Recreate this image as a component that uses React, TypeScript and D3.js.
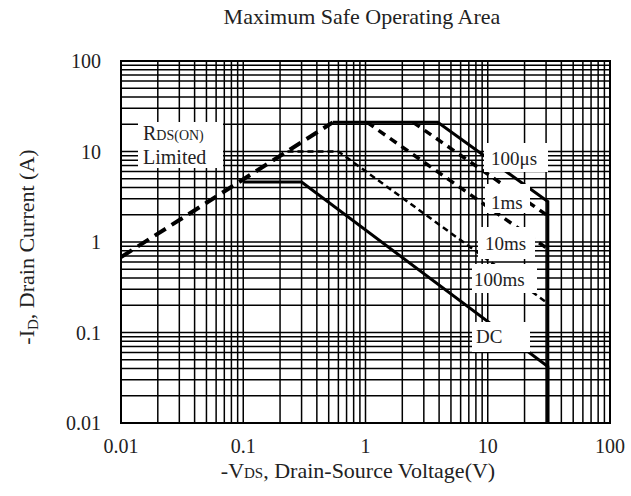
import * as d3 from 'd3'

const decades = [0.01, 0.1, 1, 10, 100]
const tickLabels = ['0.01', '0.1', '1', '10', '100']

// SOA boundaries as [Vds, Id] pairs
const rdsLimit = [[0.01, 0.68], [0.54, 21]]
const pulse100us = [[0.54, 21], [3.9, 21], [31, 2.8], [31, 0.01]]
const pulse1ms = [[2.45, 21], [31, 1.95]]
const pulse10ms = [[1.03, 21], [31, 0.84]]
const pulse100ms = [[0.23, 10], [0.6, 10], [31, 0.21]]
const dcLine = [[0.1, 4.6], [0.3, 4.6], [31, 0.042], [31, 0.01]]

const W = 631
const H = 496
const plot = { left: 121, right: 610, top: 61, bottom: 423 }
const font = '"Liberation Serif", "DejaVu Serif", serif'

const x = d3.scaleLog().domain([0.01, 100]).range([plot.left, plot.right])
const y = d3.scaleLog().domain([0.01, 100]).range([plot.bottom, plot.top])

const line = d3
  .line<number[]>()
  .x(d => x(d[0]))
  .y(d => y(d[1]))

// every 1..9 step inside each decade
const gridValues = decades
  .slice(0, -1)
  .flatMap(d => d3.range(1, 10).map(k => d * k))
  .concat([100])

const curves = [
  { data: rdsLimit, width: 4, dash: '13 7' },
  { data: pulse100us, width: 3, dash: null },
  { data: pulse1ms, width: 3.5, dash: '8 6' },
  { data: pulse10ms, width: 3.5, dash: '8 6' },
  { data: pulse100ms, width: 2.5, dash: '6 4' },
  { data: dcLine, width: 3, dash: null },
]

// annotation boxes (pixel layout)
const boxes = [
  { text: '100μs', x: 484, y: 143, w: 64, h: 29, tx: 491, ty: 165 },
  { text: '1ms', x: 485, y: 184, w: 45, h: 29, tx: 491, ty: 209 },
  { text: '10ms', x: 478, y: 227, w: 57, h: 32, tx: 485, ty: 250 },
  { text: '100ms', x: 472, y: 264, w: 65, h: 29, tx: 474, ty: 286 },
  { text: 'DC', x: 472, y: 322, w: 58, h: 30, tx: 476, ty: 343 },
]

export default function App() {
  return (
    <svg
      width={W}
      height={H}
      style={{ position: 'absolute', left: 0, top: 0, background: '#fff' }}
      fontFamily={font}
    >
      <rect width={W} height={H} fill="#fff" />
      <text x={362} y={24} fontSize={22} textAnchor="middle" fill="#222">
        Maximum Safe Operating Area
      </text>

      {/* grid */}
      <g stroke="#000" strokeWidth={1.5}>
        {gridValues.map((v, i) => (
          <line key={'v' + i} x1={x(v)} x2={x(v)} y1={plot.top} y2={plot.bottom} />
        ))}
        {gridValues.map((v, i) => (
          <line key={'h' + i} x1={plot.left} x2={plot.right} y1={y(v)} y2={y(v)} />
        ))}
      </g>
      <rect
        x={plot.left}
        y={plot.top}
        width={plot.right - plot.left}
        height={plot.bottom - plot.top}
        fill="none"
        stroke="#000"
        strokeWidth={2}
      />

      {/* curves */}
      {curves.map((c, i) => (
        <path
          key={i}
          d={line(c.data) || ''}
          fill="none"
          stroke="#000"
          strokeWidth={c.width}
          strokeDasharray={c.dash || undefined}
        />
      ))}

      {/* labels */}
      <rect x={138} y={122} width={85} height={46} fill="#fff" />
      <text x={143} y={140} fontSize={20} fill="#222">
        R<tspan fontSize={14}>DS(ON)</tspan>
      </text>
      <text x={143} y={164} fontSize={20} fill="#222">
        Limited
      </text>
      {boxes.map(b => (
        <g key={b.text}>
          <rect x={b.x} y={b.y} width={b.w} height={b.h} fill="#fff" />
          <text x={b.tx} y={b.ty} fontSize={19} fill="#222">
            {b.text}
          </text>
        </g>
      ))}

      {/* ticks */}
      {decades.map((v, i) => (
        <text
          key={'xt' + i}
          x={x(v)}
          y={453}
          fontSize={20}
          textAnchor="middle"
          fill="#222"
        >
          {tickLabels[i]}
        </text>
      ))}
      {decades.map((v, i) => (
        <text
          key={'yt' + i}
          x={101}
          y={y(v)}
          dy="0.35em"
          fontSize={20}
          textAnchor="end"
          fill="#222"
        >
          {tickLabels[i]}
        </text>
      ))}

      <text x={358} y={478} fontSize={22} textAnchor="middle" fill="#222">
        -V<tspan fontSize={15}>DS</tspan>, Drain-Source Voltage(V)
      </text>
      <text
        transform="translate(34,247) rotate(-90)"
        fontSize={22}
        textAnchor="middle"
        fill="#222"
      >
        -I<tspan fontSize={15} dy={4}>D</tspan>
        <tspan dy={-4}>, Drain Current (A)</tspan>
      </text>
    </svg>
  )
}
